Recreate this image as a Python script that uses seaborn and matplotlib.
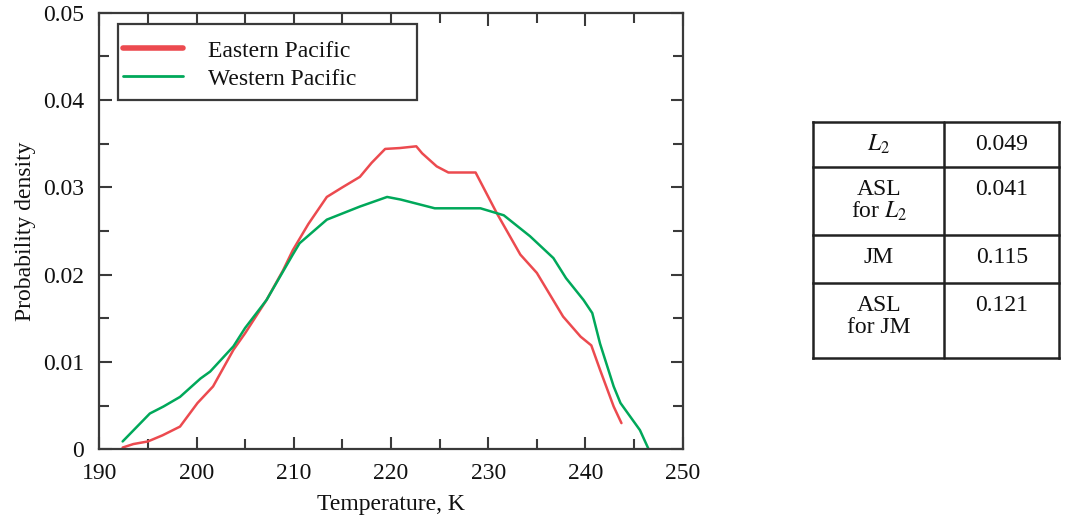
import numpy as np
import pandas as pd
import matplotlib
matplotlib.use("Agg")
import matplotlib.pyplot as plt
import matplotlib.patches as mpatches
import seaborn as sns

# ---- data ----
series_names = ["Eastern Pacific", "Western Pacific"]

temp_east = [192.4, 193.5, 195.0, 196.5, 198.3, 200.1, 201.7, 203.8, 205.0, 207.2,
             208.9, 209.9, 211.5, 213.4, 215.0, 216.8, 218.0, 219.4, 220.9, 222.6,
             223.2, 224.0, 224.7, 225.9, 228.7, 230.9, 233.3, 235.0, 237.7, 239.5,
             240.6, 241.5, 242.9, 243.7]
dens_east = [0.0002, 0.0006, 0.0009, 0.0016, 0.0026, 0.0053, 0.0072, 0.0114, 0.0133, 0.0171,
             0.0205, 0.0228, 0.0258, 0.0289, 0.0300, 0.0312, 0.0328, 0.0344, 0.0345, 0.0347,
             0.0339, 0.0331, 0.0324, 0.0317, 0.0317, 0.0270, 0.0223, 0.0202, 0.0152, 0.0129,
             0.0119, 0.0091, 0.0049, 0.0030]

temp_west = [192.4, 195.2, 196.6, 198.3, 200.4, 201.4, 203.8, 205.0, 207.2, 209.9,
             210.6, 213.4, 216.8, 219.6, 221.0, 224.5, 229.2, 231.6, 234.3, 236.7,
             238.0, 239.8, 240.7, 241.5, 242.9, 243.6, 245.6, 246.5]
dens_west = [0.0009, 0.0041, 0.0049, 0.0060, 0.0081, 0.0089, 0.0118, 0.0139, 0.0171, 0.0223,
             0.0236, 0.0263, 0.0278, 0.0289, 0.0286, 0.0276, 0.0276, 0.0268, 0.0244, 0.0219,
             0.0196, 0.0171, 0.0156, 0.0121, 0.0072, 0.0053, 0.0022, 0.0000]

x_ticks = [190, 200, 210, 220, 230, 240, 250]
y_ticks = [0, 0.01, 0.02, 0.03, 0.04, 0.05]
y_tick_labels = ["0", "0.01", "0.02", "0.03", "0.04", "0.05"]

table_labels = [["$L_2$"], ["ASL", "for $L_2$"], ["JM"], ["ASL", "for JM"]]
table_values = ["0.049", "0.041", "0.115", "0.121"]

# ---- style ----
sns.set_style("ticks")
plt.rcParams["font.family"] = ["Liberation Serif", "DejaVu Serif"]
plt.rcParams["mathtext.fontset"] = "stix"

FS = 17
dark = "#3a3a3a"
txt = "#111111"
colors = {"Eastern Pacific": "#ec4a4f", "Western Pacific": "#00a85a"}

df = pd.concat([
    pd.DataFrame({"T": temp_east, "p": dens_east, "series": series_names[0]}),
    pd.DataFrame({"T": temp_west, "p": dens_west, "series": series_names[1]}),
], ignore_index=True)

W, H = 1066, 520
fig = plt.figure(figsize=(W / 100, H / 100), dpi=100)
ax_l, ax_t, ax_w, ax_h = 99.3, 12.7, 583.4, 436.6
ax = fig.add_axes([ax_l / W, 1 - (ax_t + ax_h) / H, ax_w / W, ax_h / H])

sns.lineplot(data=df, x="T", y="p", hue="series", palette=colors,
             hue_order=series_names, sort=False, estimator=None,
             linewidth=1.8, ax=ax)

ax.set_xlim(190, 250)
ax.set_ylim(0, 0.05)
ax.set_xticks(x_ticks)
ax.set_xticklabels([str(t) for t in x_ticks])
ax.set_yticks(y_ticks)
ax.set_yticklabels(y_tick_labels)
ax.set_xticks(np.arange(195, 250, 10), minor=True)
ax.set_yticks(np.arange(0.005, 0.05, 0.01), minor=True)
ax.tick_params(which="both", direction="in", top=True, right=True,
               color=dark, width=1.5, labelsize=FS, labelcolor=txt)
ax.tick_params(which="major", length=9)
ax.tick_params(which="minor", length=7)
ax.tick_params(axis="y", pad=11)
ax.tick_params(axis="x", pad=10)
for s in ax.spines.values():
    s.set_visible(True)
    s.set_color(dark)
    s.set_linewidth(1.6)

ax.set_xlabel("Temperature, K", fontsize=FS, labelpad=7, color=txt)
ax.set_ylabel("Probability density", fontsize=FS, labelpad=5, color=txt)

# legend frame drawn as a patch (pixel box 118..417 x 24..100)
def px2ax(x, y):
    return (x - ax_l) / ax_w, 1 - (y - ax_t) / ax_h

fx0, fy1 = px2ax(118, 24)
fx1, fy0 = px2ax(417, 100)
frame = mpatches.Rectangle((fx0, fy0), fx1 - fx0, fy1 - fy0, transform=ax.transAxes,
                           facecolor="white", edgecolor=dark, linewidth=1.6, zorder=4)
ax.add_patch(frame)

anc = px2ax(123, 40)
leg = ax.legend(loc="upper left", bbox_to_anchor=anc, borderaxespad=0, borderpad=0,
                fontsize=FS, frameon=False,
                handlelength=2.55, handletextpad=1.05, labelspacing=0.28, title=None)
leg.set_zorder(5)
for t in leg.get_texts():
    t.set_color(txt)
lines = leg.get_lines()
lines[0].set_linewidth(4)
lines[1].set_linewidth(2)

# ---- table ----
row_heights = [45, 68.3, 47.7, 75]
tw = 1059.3 - 813.3
th = sum(row_heights)
tax = fig.add_axes([813.3 / W, 1 - (121.7 + th) / H, tw / W, th / H])
tax.set_xlim(0, tw)
tax.set_ylim(th, 0)
tax.axis("off")
col_div = 944.3 - 813.3
lw_t = 1.8
tc = "#222222"
tax.plot([0, 0], [0, th], color=tc, lw=lw_t, clip_on=False, solid_capstyle="projecting")
tax.plot([tw, tw], [0, th], color=tc, lw=lw_t, clip_on=False, solid_capstyle="projecting")
tax.plot([col_div, col_div], [0, th], color=tc, lw=lw_t, clip_on=False)
y0 = 0
tops = []
for h in row_heights:
    tops.append(y0)
    tax.plot([0, tw], [y0, y0], color=tc, lw=lw_t, clip_on=False, solid_capstyle="projecting")
    y0 += h
tax.plot([0, tw], [th, th], color=tc, lw=lw_t, clip_on=False, solid_capstyle="projecting")
c1 = col_div / 2
c2 = (col_div + tw) / 2
for top, labs, val in zip(tops, table_labels, table_values):
    for k, lab in enumerate(labs):
        tax.text(c1, top + 22.5 + 22 * k, lab, ha="center", va="center",
                 fontsize=FS, color=txt)
    tax.text(c2, top + 22.5, val, ha="center", va="center", fontsize=FS, color=txt)

fig.savefig("out.png", dpi=100)
